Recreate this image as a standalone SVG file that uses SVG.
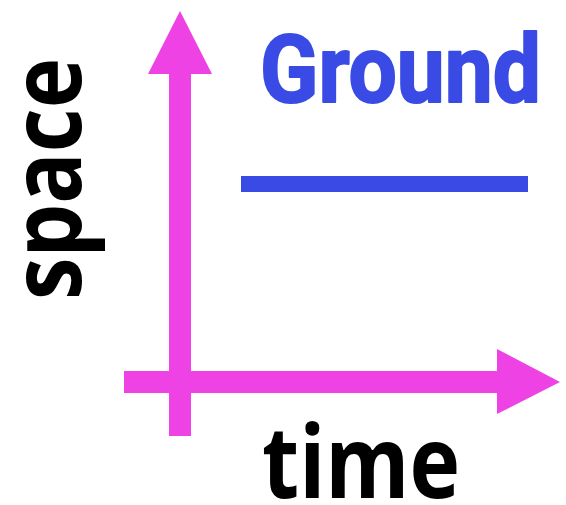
<svg xmlns="http://www.w3.org/2000/svg" width="566" height="505" viewBox="0 0 566 505">
<style>
.axis{fill:#EF42E4;}
.lbl{font-family:"Open Sans","Liberation Sans",sans-serif;font-weight:bold;fill:#000;}
.title{font-family:Roboto,"Liberation Sans",sans-serif;font-weight:bold;fill:#3A4BE5;stroke:#3A4BE5;stroke-width:2;stroke-linejoin:round;}
</style>
<rect width="566" height="505" fill="#fff"/>
<g id="connectors">
<g id="y-axis">
<rect class="axis" x="169" y="70" width="22" height="366"/>
<polygon class="axis" points="180,11 212,74 148,74"/>
</g>
<g id="x-axis">
<rect class="axis" x="124" y="371" width="378" height="22"/>
<polygon class="axis" points="560,382 497,349 497,414"/>
</g>
</g>
<g id="ground">
<rect x="241" y="176" width="287" height="16" fill="#3A4BE5"/>
<text class="title" x="260" y="102" font-size="94" textLength="281" lengthAdjust="spacingAndGlyphs">Ground</text>
</g>
<g id="space-label">
<text class="lbl" transform="translate(81,300) rotate(-90)" x="0" y="0" font-size="98" textLength="242" lengthAdjust="spacingAndGlyphs">space</text>
</g>
<g id="time-label">
<text class="lbl" x="262" y="498" font-size="100" textLength="198" lengthAdjust="spacingAndGlyphs">time</text>
</g>
</svg>
